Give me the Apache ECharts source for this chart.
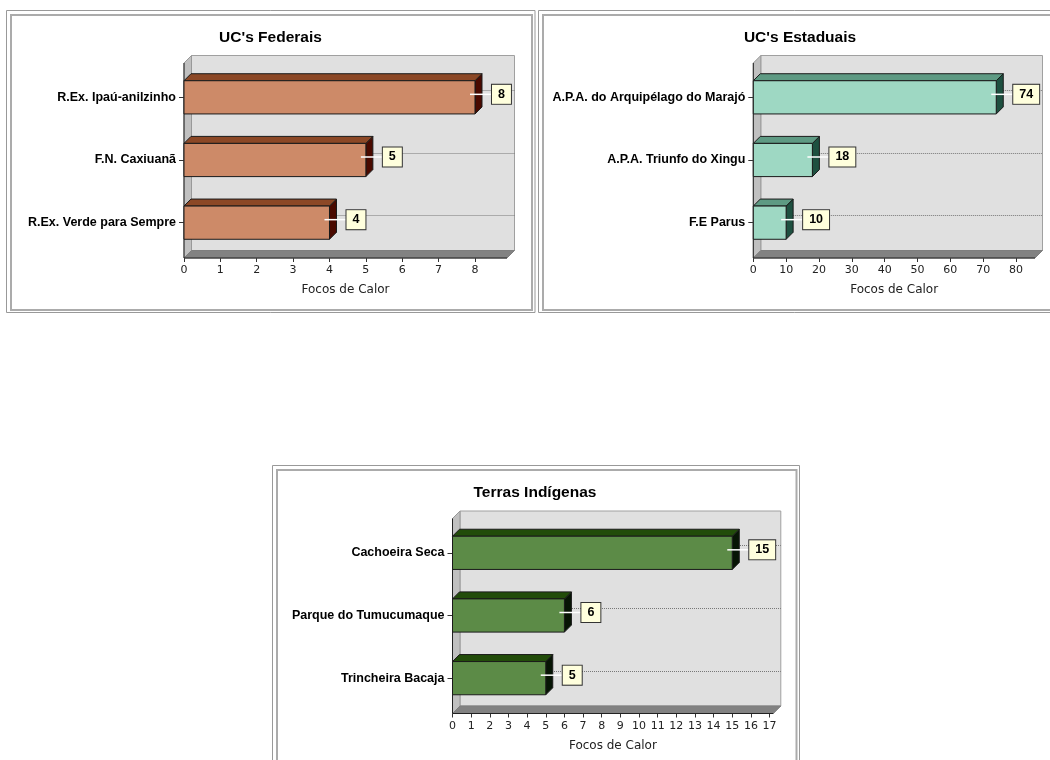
<!DOCTYPE html>
<html><head><meta charset="utf-8">
<script src="https://cdn.jsdelivr.net/npm/echarts@6/dist/echarts.min.js"></script>
<style>html,body{margin:0;padding:0;background:#fff}#c{width:1050px;height:760px}</style>
</head><body><div id="c"></div>
<script>
// ---- data ----
const fedTitle = "UC's Federais";
const fedCats = ['R.Ex. Ipaú-anilzinho', 'F.N. Caxiuanã', 'R.Ex. Verde para Sempre'];
const fedVals = [8, 5, 4];
const fedTicks = [0, 1, 2, 3, 4, 5, 6, 7, 8];
const fedMax = 8.88;

const estTitle = "UC's Estaduais";
const estCats = ['A.P.A. do Arquipélago do Marajó', 'A.P.A. Triunfo do Xingu', 'F.E Parus'];
const estVals = [74, 18, 10];
const estTicks = [0, 10, 20, 30, 40, 50, 60, 70, 80];
const estMax = 85.8;

const indTitle = 'Terras Indígenas';
const indCats = ['Cachoeira Seca', 'Parque do Tumucumaque', 'Trincheira Bacaja'];
const indVals = [15, 6, 5];
const indTicks = [0, 1, 2, 3, 4, 5, 6, 7, 8, 9, 10, 11, 12, 13, 14, 15, 16, 17];
const indMax = 17.2;

const axisName = 'Focos de Calor';

// ---- layout / style ----
const panels = [
  { title: fedTitle, cats: fedCats, vals: fedVals, ticks: fedTicks, max: fedMax,
    grid: { left: 184, top: 66, width: 323, height: 188 }, tx: 270.5, ty: 38,
    col: { front: '#CD8A68', top: '#8C4826', side: '#4A0A00' } },
  { title: estTitle, cats: estCats, vals: estVals, ticks: estTicks, max: estMax,
    grid: { left: 753.3, top: 66, width: 281.7, height: 188 }, tx: 800, ty: 38,
    col: { front: '#9ED8C3', top: '#5E9A83', side: '#1E5040' } },
  { title: indTitle, cats: indCats, vals: indVals, ticks: indTicks, max: indMax,
    grid: { left: 452.5, top: 521.5, width: 320.8, height: 188 }, tx: 535, ty: 493,
    col: { front: '#5C8B47', top: '#224C0A', side: '#071505' } }
];
const D = 7.5, DB = 7, PAD_T = 3, PAD_B = 4;

function boxRenderer(nCats) {
  return function (params, api) {
    const cs = params.coordSys;
    const L = cs.x, R = cs.x + cs.width, T = cs.y - PAD_T, B = cs.y + cs.height + PAD_B;
    const ch = [];
    ch.push({ type: 'rect', shape: { x: L + D, y: T - D, width: R - L, height: B - T },
      style: { fill: '#E0E0E0', stroke: '#A0A0A0', lineWidth: 1 } });
    ch.push({ type: 'polygon', shape: { points: [[L, T], [L + D, T - D], [L + D, B - D], [L, B]] },
      style: { fill: '#C0C0C0', stroke: '#999', lineWidth: 1 } });
    ch.push({ type: 'polygon', shape: { points: [[L, B], [L + D, B - D], [R + D, B - D], [R, B]] },
      style: { fill: '#828282', stroke: '#7E7E7E', lineWidth: 1 } });
    for (let i = 0; i < nCats; i++) {
      const y = Math.round(api.coord([0, i])[1] - D) + 0.5;
      ch.push({ type: 'line', shape: { x1: L + D, y1: y, x2: R + D, y2: y },
        style: { stroke: '#777', lineWidth: 1, lineDash: [1, 1] } });
    }
    ch.push({ type: 'line', shape: { x1: L, y1: T, x2: L, y2: B }, style: { stroke: '#222', lineWidth: 1 } });
    ch.push({ type: 'line', shape: { x1: L, y1: B, x2: R, y2: B }, style: { stroke: '#222', lineWidth: 1 } });
    return { type: 'group', children: ch };
  };
}

function barRenderer(col) {
  return function (params, api) {
    const v = api.value(0), ci = api.value(1);
    const p0 = api.coord([0, ci]);
    const x0 = p0[0], cy = p0[1];
    const x1 = api.coord([v, ci])[0];
    const h = api.size([0, 1])[1] * 0.53;
    const yT = cy - h / 2, yB = cy + h / 2;
    const st = '#1A1A1A';
    return { type: 'group', children: [
      { type: 'polygon', shape: { points: [[x1, yT], [x1 + DB, yT - DB], [x1 + DB, yB - DB], [x1, yB]] },
        style: { fill: col.side, stroke: st, lineWidth: 1 } },
      { type: 'polygon', shape: { points: [[x0, yT], [x0 + DB, yT - DB], [x1 + DB, yT - DB], [x1, yT]] },
        style: { fill: col.top, stroke: st, lineWidth: 1 } },
      { type: 'rect', shape: { x: x0, y: yT, width: x1 - x0, height: h },
        style: { fill: col.front, stroke: st, lineWidth: 1 } },
      { type: 'line', shape: { x1: x1 - 5, y1: cy - 3, x2: x1 + 17, y2: cy - 3 },
        style: { stroke: '#FFFFFF', lineWidth: 1.5 } },
      { type: 'text', x: x1 + 17, y: cy - 3,
        style: { text: String(v), fill: '#000', font: 'bold 12.5px "Liberation Sans"',
          align: 'left', verticalAlign: 'middle', lineHeight: 12,
          backgroundColor: '#FFFFDD', borderColor: '#333', borderWidth: 1, padding: [4, 6, 3, 6] } }
    ] };
  };
}

const grids = [], xAxes = [], yAxes = [], series = [], graphics = [];
panels.forEach((p, k) => {
  grids.push(Object.assign({ containLabel: false, outerBoundsMode: 'none' }, p.grid));
  yAxes.push({
    type: 'category', gridIndex: k, data: p.cats, inverse: true,
    axisLine: { show: false },
    axisTick: { show: true, alignWithLabel: true, length: 5, lineStyle: { color: '#333' } },
    axisLabel: { margin: 8, fontFamily: 'Liberation Sans', fontWeight: 'bold', fontSize: 12.5, color: '#000' },
    splitLine: { show: false }
  });
  xAxes.push({
    type: 'value', gridIndex: k, min: 0, max: p.max, offset: PAD_B,
    axisLine: { show: false },
    axisTick: { show: true, length: 4, customValues: p.ticks, lineStyle: { color: '#333' } },
    axisLabel: { customValues: p.ticks, margin: 7, fontFamily: 'DejaVu Sans', fontSize: 11, color: '#222' },
    splitLine: { show: false },
    name: axisName, nameLocation: 'middle', nameGap: 26,
    nameTextStyle: { fontFamily: 'DejaVu Sans', fontSize: 12, color: '#222' }
  });
  series.push({
    type: 'custom', xAxisIndex: k, yAxisIndex: k, z: 1, silent: true,
    data: [[0, 0]], renderItem: boxRenderer(p.cats.length)
  });
  series.push({
    type: 'custom', xAxisIndex: k, yAxisIndex: k, z: 2, silent: true,
    data: p.vals.map((v, i) => [v, i]), encode: { x: 0, y: 1 },
    renderItem: barRenderer(p.col)
  });
  graphics.push({ type: 'text', x: p.tx, y: p.ty,
    style: { text: p.title, font: 'bold 15.5px "Liberation Sans"', fill: '#000', align: 'center', verticalAlign: 'middle' } });
});

// panel frames
[[6.5, 10.5, 528.5, 302, 11, 15, 521, 295],
 [538.5, 10.5, 600, 302, 543, 15, 600, 295],
 [272.5, 465.5, 527, 400, 277, 470, 519.5, 400]].forEach(f => {
  graphics.push({ type: 'rect', shape: { x: f[0], y: f[1], width: f[2], height: f[3] },
    style: { fill: 'none', stroke: '#999', lineWidth: 1 } });
  graphics.push({ type: 'rect', shape: { x: f[4], y: f[5], width: f[6], height: f[7] },
    style: { fill: 'none', stroke: '#ABABAB', lineWidth: 2 } });
});

const chart = echarts.init(document.getElementById('c'), null, { renderer: 'canvas' });
chart.setOption({
  backgroundColor: '#fff',
  animation: false,
  grid: grids, xAxis: xAxes, yAxis: yAxes, series: series,
  graphic: graphics
});
</script></body></html>
